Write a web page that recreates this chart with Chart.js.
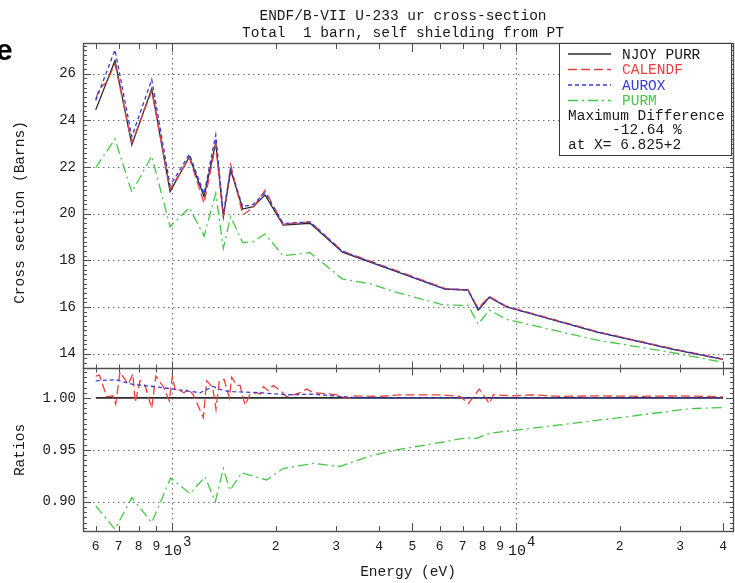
<!DOCTYPE html>
<html>
<head>
<meta charset="utf-8">
<script src="https://cdn.jsdelivr.net/npm/chart.js@4.4.1/dist/chart.umd.min.js"></script>
<style>
  html, body { margin: 0; padding: 0; background: #fff; overflow: hidden; }
  canvas { display: block; }
</style>
</head>
<body>
<canvas id="c" width="735" height="583"></canvas>
<script>
// ---- Cross sections (barns) vs energy (eV) ----
const energyNjoy = [600, 682.5, 764, 873, 987, 1123, 1239, 1340, 1410, 1481, 1605, 1722, 1863, 2104, 2520, 3130, 6219, 7252, 7766, 8359, 9394, 17100, 28650, 40000];
const njoyXs     = [24.45, 26.56, 22.95, 25.35, 20.95, 22.44, 20.73, 23.05, 19.87, 21.87, 20.2, 20.3, 20.8, 19.51, 19.59, 18.35, 16.77, 16.73, 15.87, 16.42, 16.01, 14.94, 14.19, 13.76];
const auroxXs    = [24.85, 27.02, 23.3, 25.75, 21.2, 22.55, 20.85, 23.38, 20.0, 21.9, 20.3, 20.4, 20.9, 19.58, 19.65, 18.38, 16.77, 16.73, 15.87, 16.42, 16.01, 14.94, 14.19, 13.76];

const energyCalendf = [600, 614, 646, 682.5, 764, 873, 987, 1123, 1239, 1340, 1410, 1481, 1605, 1722, 1863, 2104, 2520, 3130, 6219, 7252, 7766, 8359, 9394, 17100, 28650, 40000];
const calendfXs     = [24.9, 25.35, 25.65, 26.42, 23.05, 25.25, 21.05, 22.4, 20.45, 22.95, 19.85, 22.1, 19.95, 20.25, 21.0, 19.55, 19.65, 18.4, 16.8, 16.73, 15.95, 16.45, 16.03, 14.96, 14.21, 13.77];

const energyPurm = [600, 682.5, 764, 873, 987, 1123, 1239, 1340, 1410, 1481, 1605, 1722, 1863, 2104, 2520, 3130, 3760, 4495, 6150, 7252, 7766, 8359, 9394, 17100, 28650, 40000];
const purmXs     = [21.97, 23.20, 20.92, 22.47, 19.44, 20.26, 19.04, 20.87, 18.52, 19.87, 18.76, 18.8, 19.13, 18.2, 18.33, 17.2, 17.0, 16.63, 16.09, 16.07, 15.27, 15.87, 15.47, 14.59, 14.04, 13.63];

// ---- Ratios to NJOY PURR ----
const ratioNjoyE = [600, 40000];
const ratioNjoy  = [1, 1];

const ratioCalendfE = [600, 615, 646, 672.5, 686, 706, 746, 769, 782, 807, 835, 873, 897, 943, 982, 1002, 1020, 1055, 1084, 1115, 1153, 1233, 1261, 1313, 1342, 1373, 1416, 1468, 1491, 1542, 1577, 1630, 1686, 1763, 1803, 1843, 1905, 1970, 2084, 2154, 2252, 2355, 2464, 2575, 2817, 3012, 3233, 3365, 4024, 4601, 5260, 6013, 6875, 7268, 7822, 8364, 8592, 9822, 10985, 13430, 17540, 22940, 29970, 40000];
const ratioCalendf  = [1.021, 1.022, 1.001, 1.002, 0.994, 1.025, 1.013, 1.023, 0.996, 1.0165, 1.012, 0.990, 1.021, 1.011, 0.997, 1.021, 1.0085, 1.007, 1.005, 1.0085, 1.003, 0.981, 1.0165, 1.010, 0.989, 1.0165, 1.018, 1.000, 1.020, 1.012, 1.012, 0.993, 1.0036, 1.005, 1.0036, 1.011, 1.007, 1.012, 1.006, 1.001, 1.003, 1.005, 1.0085, 1.005, 1.004, 1.003, 0.9994, 1.002, 1.0014, 1.003, 1.003, 1.003, 1.0015, 0.9945, 1.0085, 0.9945, 1.003, 1.002, 1.003, 1.0015, 1.002, 1.0015, 1.002, 1.001];

const ratioAuroxE = [600, 686, 769, 882, 1009, 1090, 1206, 1318, 1410, 1507, 1803, 2154, 2575, 3075, 3520, 6000, 10000, 20000, 40000];
const ratioAurox  = [1.0165, 1.0175, 1.013, 1.011, 1.0085, 1.007, 1.005, 1.011, 1.007, 1.006, 1.005, 1.003, 1.0036, 1.0014, 1.000, 1.0003, 1.0, 1.0, 1.0];

const ratioPurmE = [600, 682.5, 764, 873, 991, 1128, 1247, 1336, 1410, 1474, 1594, 1885, 2104, 2575, 3075, 3760, 4495, 6013, 7180, 7680, 8380, 10040, 20000, 32100, 40000];
const ratioPurm  = [0.896, 0.8736, 0.904, 0.880, 0.923, 0.908, 0.924, 0.900, 0.932, 0.911, 0.928, 0.921, 0.932, 0.937, 0.934, 0.944, 0.950, 0.957, 0.9616, 0.961, 0.966, 0.969, 0.981, 0.9897, 0.9907];

// ---- Axis ticks ----
const xTickValues = [600, 700, 800, 900, 1000, 2000, 3000, 4000, 5000, 6000, 7000, 8000, 9000, 10000, 20000, 30000, 40000];
const xTickLabels = ['6', '7', '8', '9', '', '2', '3', '4', '5', '6', '7', '8', '9', '', '2', '3', '4'];
const decadeValues = [1000, 10000];
const decadeExponents = ['3', '4'];
const xsTicks = [14, 16, 18, 20, 22, 24, 26];
const ratioTicks = [0.90, 0.95, 1.00];

// ---- Legend text ----
const seriesNames = ['NJOY PURR', 'CALENDF', 'AUROX', 'PURM'];
const maxDiffLines = ['Maximum Difference', '-12.64 %', 'at X= 6.825+2'];

const MONO = '"Liberation Mono", "DejaVu Sans Mono", monospace';
const COLORS = { njoy: '#2b2b2b', calendf: '#e8413d', aurox: '#3a3ad8', purm: '#45c845' };
const DASH = { njoy: [], calendf: [9, 4], aurox: [4, 3], purm: [10, 4, 2, 4] };
const FRAME = '#4f4f4f';

const pts = (ex, ys) => ex.map((e, i) => ({ x: e, y: ys[i] }));

function line(label, data, axis, key, order, width) {
  return {
    label, data, yAxisID: axis, order,
    borderColor: COLORS[key], borderDash: DASH[key], borderWidth: width || 1.3,
    pointRadius: 0, tension: 0, fill: false
  };
}

const decor = {
  id: 'decor',
  beforeDatasetsDraw(chart) {
    const { ctx, chartArea: a, scales } = chart;
    const xs = scales.x, yt = scales.y, yr = scales.yRatio;
    ctx.save();
    ctx.strokeStyle = '#707070';
    ctx.lineWidth = 1.2;
    ctx.setLineDash([1.5, 3.5]);
    ctx.beginPath();
    xsTicks.forEach(v => {
      const p = Math.round(yt.getPixelForValue(v)) + 0.5;
      ctx.moveTo(a.left, p); ctx.lineTo(a.right, p);
    });
    ratioTicks.forEach(v => {
      if (v === 1) return;
      const p = Math.round(yr.getPixelForValue(v)) + 0.5;
      ctx.moveTo(a.left, p); ctx.lineTo(a.right, p);
    });
    decadeValues.forEach(v => {
      const p = Math.round(xs.getPixelForValue(v)) + 0.5;
      ctx.moveTo(p, a.top); ctx.lineTo(p, a.bottom);
    });
    ctx.stroke();
    ctx.restore();
  },
  afterDatasetsDraw(chart) {
    const { ctx, chartArea: a, scales } = chart;
    const xs = scales.x, yt = scales.y, yr = scales.yRatio;
    const sep = Math.round(yt.bottom) + 0.5;
    ctx.save();
    ctx.strokeStyle = FRAME;
    ctx.lineWidth = 1.4;
    ctx.setLineDash([]);
    ctx.strokeRect(a.left + 0.5, a.top + 0.5, a.right - a.left - 1, a.bottom - a.top - 1);
    ctx.beginPath();
    ctx.moveTo(a.left, sep); ctx.lineTo(a.right, sep);
    ctx.stroke();

    ctx.lineWidth = 1;
    ctx.beginPath();
    // y ticks on both sides, upper panel (0.2 barn steps)
    for (let k = Math.ceil(yt.min * 5); k <= Math.floor(yt.max * 5); k++) {
      const p = Math.round(yt.getPixelForValue(k / 5)) + 0.5;
      const len = (k % 10 === 0) ? 8 : 4;
      ctx.moveTo(a.left, p); ctx.lineTo(a.left + len, p);
      ctx.moveTo(a.right, p); ctx.lineTo(a.right - len, p);
    }
    // y ticks on both sides, ratio panel (0.005 steps)
    for (let k = Math.ceil(yr.min * 200); k <= Math.floor(yr.max * 200); k++) {
      const p = Math.round(yr.getPixelForValue(k / 200)) + 0.5;
      const len = (k % 10 === 0) ? 8 : 4;
      ctx.moveTo(a.left, p); ctx.lineTo(a.left + len, p);
      ctx.moveTo(a.right, p); ctx.lineTo(a.right - len, p);
    }
    // x ticks: top, separator, bottom
    for (let e = 2; e <= 4; e++) {
      for (let n = 1; n <= 9; n++) {
        const v = n * Math.pow(10, e);
        if (v < xs.min || v > xs.max) continue;
        const p = Math.round(xs.getPixelForValue(v)) + 0.5;
        const big = (n === 1 || n === 5 || (e === 4 && n === 4));
        const len = big ? 9 : 6;
        ctx.moveTo(p, a.top); ctx.lineTo(p, a.top + len);
        ctx.moveTo(p, a.bottom); ctx.lineTo(p, a.bottom - len);
        ctx.moveTo(p, sep - (big ? 7 : 4)); ctx.lineTo(p, sep + (big ? 7 : 4));
      }
    }
    ctx.stroke();
    ctx.restore();
  },
  afterDraw(chart) {
    const { ctx, chartArea: a, scales } = chart;
    const xs = scales.x, yt = scales.y, yr = scales.yRatio;
    ctx.save();
    ctx.fillStyle = '#1a1a1a';
    ctx.textBaseline = 'middle';

    // title
    ctx.font = '14.5px ' + MONO;
    ctx.textAlign = 'center';
    ctx.fillText('ENDF/B-VII U-233 ur cross-section', 403, 16);
    ctx.fillText('Total  1 barn, self shielding from PT', 403, 33);

    // axis titles
    ctx.fillText('Energy (eV)', 408, 572);
    ctx.save();
    ctx.translate(20, (yt.top + yt.bottom) / 2 + 7);
    ctx.rotate(-Math.PI / 2);
    ctx.fillText('Cross section (Barns)', 0, 0);
    ctx.restore();
    ctx.save();
    ctx.translate(20, (yr.top + yr.bottom) / 2);
    ctx.rotate(-Math.PI / 2);
    ctx.fillText('Ratios', 0, 0);
    ctx.restore();

    // decade labels: 10 with raised exponent
    decadeValues.forEach((v, i) => {
      const p = xs.getPixelForValue(v);
      ctx.textAlign = 'center';
      ctx.font = '15px ' + MONO;
      ctx.fillText('10', p + 1, 551);
      ctx.textAlign = 'left';
      ctx.font = '14px ' + MONO;
      ctx.fillText(decadeExponents[i], p + 11, 542);
    });

    // legend box
    const lx = 559.5, ly = 43.5, lw = 172, lh = 112;
    ctx.fillStyle = '#ffffff';
    ctx.fillRect(lx, ly, lw, lh);
    ctx.strokeStyle = '#3a3a3a';
    ctx.lineWidth = 1;
    ctx.strokeRect(lx, ly, lw, lh);

    const keys = ['njoy', 'calendf', 'aurox', 'purm'];
    const rows = [54, 69.5, 85, 100.5];
    ctx.font = '14.5px ' + MONO;
    ctx.textAlign = 'left';
    keys.forEach((k, i) => {
      ctx.strokeStyle = COLORS[k];
      ctx.lineWidth = 1.3;
      ctx.setLineDash(DASH[k]);
      ctx.beginPath();
      ctx.moveTo(568, rows[i]); ctx.lineTo(611, rows[i]);
      ctx.stroke();
      ctx.setLineDash([]);
      ctx.fillStyle = k === 'njoy' ? '#1a1a1a' : COLORS[k];
      ctx.fillText(seriesNames[i], 622, rows[i] + 1);
    });
    ctx.fillStyle = '#1a1a1a';
    ctx.fillText(maxDiffLines[0], 568, 116);
    ctx.fillText(maxDiffLines[1], 612, 130.5);
    ctx.fillText(maxDiffLines[2], 568, 145.5);

    // stray glyph at the page edge
    ctx.font = 'bold 30px "Liberation Sans", Arial, sans-serif';
    ctx.textBaseline = 'alphabetic';
    ctx.fillStyle = '#000';
    ctx.fillText('e', -4, 60);
    ctx.restore();
  }
};

new Chart(document.getElementById('c'), {
  type: 'line',
  data: {
    datasets: [
      line('NJOY PURR', pts(energyNjoy, njoyXs), 'y', 'njoy', 3),
      line('CALENDF', pts(energyCalendf, calendfXs), 'y', 'calendf', 2),
      line('AUROX', pts(energyNjoy, auroxXs), 'y', 'aurox', 1),
      line('PURM', pts(energyPurm, purmXs), 'y', 'purm', 4),
      line('NJOY PURR ratio', pts(ratioNjoyE, ratioNjoy), 'yRatio', 'njoy', 7, 1.8),
      line('CALENDF ratio', pts(ratioCalendfE, ratioCalendf), 'yRatio', 'calendf', 6),
      line('AUROX ratio', pts(ratioAuroxE, ratioAurox), 'yRatio', 'aurox', 5),
      line('PURM ratio', pts(ratioPurmE, ratioPurm), 'yRatio', 'purm', 8)
    ]
  },
  options: {
    responsive: false,
    animation: false,
    devicePixelRatio: 1,
    layout: { padding: { left: 0, right: 1, top: 43, bottom: 0 } },
    plugins: { legend: { display: false }, title: { display: false }, tooltip: { enabled: false } },
    scales: {
      x: {
        type: 'logarithmic',
        position: 'bottom',
        min: 551, max: 43030,
        grid: { display: false, drawTicks: false },
        border: { display: false },
        afterBuildTicks: s => { s.ticks = xTickValues.map(v => ({ value: v })); },
        afterFit: s => { s.height = 51; },
        ticks: {
          autoSkip: false, maxRotation: 0, padding: 7,
          color: '#1a1a1a', font: { family: MONO, size: 13 },
          callback: (v, i) => xTickLabels[i]
        }
      },
      yRatio: {
        type: 'linear',
        position: 'left',
        stack: 'panels', stackWeight: 164,
        min: 0.8709, max: 1.0288,
        grid: { display: false, drawTicks: false },
        border: { display: false },
        afterBuildTicks: s => { s.ticks = ratioTicks.map(v => ({ value: v })); },
        afterFit: s => { s.width = 83; },
        ticks: {
          autoSkip: false, padding: 7,
          color: '#1a1a1a', font: { family: MONO, size: 14 },
          callback: v => v.toFixed(2)
        }
      },
      y: {
        type: 'linear',
        position: 'left',
        stack: 'panels', stackWeight: 325,
        min: 13.387, max: 27.316,
        grid: { display: false, drawTicks: false },
        border: { display: false },
        afterBuildTicks: s => { s.ticks = xsTicks.map(v => ({ value: v })); },
        afterFit: s => { s.width = 83; },
        ticks: {
          autoSkip: false, padding: 7,
          color: '#1a1a1a', font: { family: MONO, size: 14 },
          callback: v => String(v)
        }
      }
    }
  },
  plugins: [decor]
});
</script>
</body>
</html>
